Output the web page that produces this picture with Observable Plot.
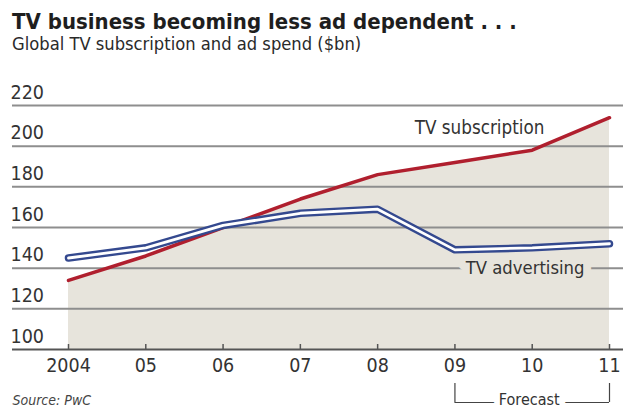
<!DOCTYPE html>
<html>
<head>
<meta charset="utf-8">
<script src="https://cdn.jsdelivr.net/npm/d3@7"></script>
<script src="https://cdn.jsdelivr.net/npm/@observablehq/plot@0.6"></script>
<style>
  html, body { margin: 0; padding: 0; background: #fff; }
  #wrap { position: relative; width: 623px; height: 408px; overflow: hidden; font-family: "DejaVu Sans Condensed", "Liberation Sans Narrow", Roboto, sans-serif; color: #1a1a1a; }
  #title { position: absolute; left: 12px; top: 11.5px; font-size: 22px; line-height: 19px; font-weight: bold; white-space: nowrap; color: #1e1e1e; }
  #subtitle { position: absolute; left: 12px; top: 37.3px; font-size: 18.2px; line-height: 14px; white-space: nowrap; color: #2a2a2a; }
  #chart { position: absolute; left: 0; top: 60px; }
</style>
</head>
<body>
<div id="wrap">
  <div id="title">TV business becoming less ad dependent . . .</div>
  <div id="subtitle">Global TV subscription and ad spend ($bn)</div>
  <div id="chart"></div>
</div>
<script>
const years = [2004, 2005, 2006, 2007, 2008, 2009, 2010, 2011];
const yearLabels = ["2004", "05", "06", "07", "08", "09", "10", "11"];
const subscription = [134, 146, 160, 174, 186, 192, 198, 214];
const advertising = [145, 150, 161, 167, 169, 149, 150, 152];
const yTicks = [100, 120, 140, 160, 180, 200, 220];
const seriesLabels = ["TV subscription", "TV advertising"];
const labelYears = [2008.48, 2009.14];
const labelValues = [209, 140];
const forecastSpan = [2009, 2011];
const sourceText = "Source: PwC";

const red = "#b01f2e";
const blue = "#34498f";
const beige = "#e7e4dc";
const grid = "#8e8e8e";

const data = years.map((year, i) => ({year, subscription: subscription[i], advertising: advertising[i]}));
const labels = seriesLabels.map((text, i) => ({text, year: labelYears[i], value: labelValues[i]}));

const chart = Plot.plot({
  width: 623,
  height: 348,
  marginLeft: 68,
  marginRight: 14,
  marginTop: 45,
  marginBottom: 59,
  style: {fontFamily: '"DejaVu Sans Condensed", "Liberation Sans Narrow", Roboto, sans-serif', fontSize: "19px", color: "#222", background: "white"},
  x: {domain: [years[0], years[years.length - 1]]},
  y: {domain: [yTicks[0], yTicks[yTicks.length - 1]]},
  marks: [
    Plot.areaY(data, {x: "year", y1: yTicks[0], y2: "subscription", fill: beige}),
    Plot.ruleY(yTicks.slice(1), {stroke: grid, strokeWidth: 2, insetLeft: -56, insetRight: -14}),
    Plot.text([labels[1]], {x: "year", y: "value", text: "text", textAnchor: "start", fill: "#333", stroke: beige, strokeWidth: 16, fontSize: 18.3}),
    Plot.ruleY([yTicks[0]], {stroke: "#555", strokeWidth: 2, insetLeft: -56, insetRight: -14}),
    Plot.ruleX(years, {x: d => d, y1: yTicks[0], y2: yTicks[0], insetTop: -5, stroke: "#555", strokeWidth: 1.5}),
    Plot.lineY(data, {x: "year", y: "subscription", stroke: red, strokeWidth: 3.5, strokeLinejoin: "round"}),
    Plot.lineY(data, {x: "year", y: "advertising", stroke: blue, strokeWidth: 7.5, strokeLinecap: "round", strokeLinejoin: "round"}),
    Plot.lineY(data, {x: "year", y: "advertising", stroke: "white", strokeWidth: 2.8, strokeLinecap: "round", strokeLinejoin: "round"}),
    Plot.text([labels[0]], {x: "year", y: "value", text: "text", textAnchor: "start", fill: "#333", fontSize: 18.7}),
    Plot.axisY(yTicks, {tickSize: 0, textAnchor: "start", dx: -49, dy: -13, label: null, fontSize: 19.5, fill: "#333"}),
    Plot.axisX(years, {tickSize: 0, tickPadding: 9, tickFormat: d => yearLabels[years.indexOf(d)], label: null, fontSize: 19.5, fill: "#333"}),
    Plot.ruleX(forecastSpan, {x: d => d, y1: yTicks[0], y2: yTicks[0], insetTop: 34, insetBottom: -53, stroke: "#444", strokeWidth: 1.2}),
    Plot.ruleY([yTicks[0]], {x1: forecastSpan[0], x2: forecastSpan[1], dy: 53, stroke: "#444", strokeWidth: 1.2}),
    Plot.text(["Forecast"], {x: (forecastSpan[0] + forecastSpan[1]) / 2, y: yTicks[0], dx: -3, dy: 50, fill: "#333", stroke: "white", strokeWidth: 12, fontSize: 16}),
    Plot.text([sourceText], {frameAnchor: "bottom-left", textAnchor: "start", dx: -56, dy: 55, fontStyle: "italic", fontSize: 14, fill: "#444"})
  ]
});
document.getElementById("chart").appendChild(chart);
</script>
</body>
</html>
